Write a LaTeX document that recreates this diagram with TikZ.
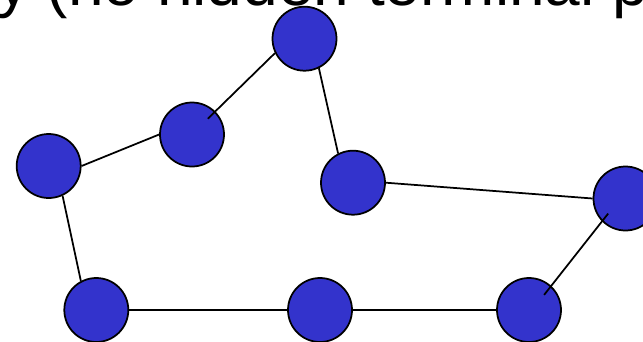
\documentclass[tikz,border=0pt]{standalone}
\usepackage{fontspec}
\setmainfont{Liberation Sans}
\usetikzlibrary{calc}

\begin{document}
\begin{tikzpicture}[
    x=1pt, y=-1pt,
    station/.style={circle, draw=black, line width=1.75pt, fill=stationblue, minimum size=64pt, inner sep=0pt},
    link/.style={draw=black, line width=1.75pt}
  ]
    \definecolor{stationblue}{RGB}{51,51,204}
    \useasboundingbox (0,0) rectangle (643,341);
    \clip (0,0) rectangle (643,341);

    % Heading
    \node[anchor=base west, inner sep=0pt, font=\fontsize{64}{64}\selectfont] (title) at (-3,5) {y (no hidden terminal p};

    % Stations
    \node[station] (a) at (304.5,38.7) {};
    \node[station] (b) at (192,134.5) {};
    \node[station] (c) at (48.7,166) {};
    \node[station] (d) at (353,182.7) {};
    \node[station] (e) at (625.5,198.5) {};
    \node[station] (f) at (96.3,310) {};
    \node[station] (g) at (320,310) {};
    \node[station] (h) at (529,310) {};

    % Links
    \draw[link] (c.east) -- (b.west);
    \draw[link] ($(b.center)!0.68!(b.45)$) -- (a.206);
    \draw[link] (a.-64) -- (d.117);
    \draw[link] (d.east) -- (e.west);
    \draw[link] ($(e.center)!0.7!(e.221)$) -- ($(h.center)!0.65!(h.45)$);
    \draw[link] (c.-65) -- (f.118);
    \draw[link] (f.east) -- (g.west);
    \draw[link] (g.east) -- (h.west);

  \end{tikzpicture}
\end{document}
